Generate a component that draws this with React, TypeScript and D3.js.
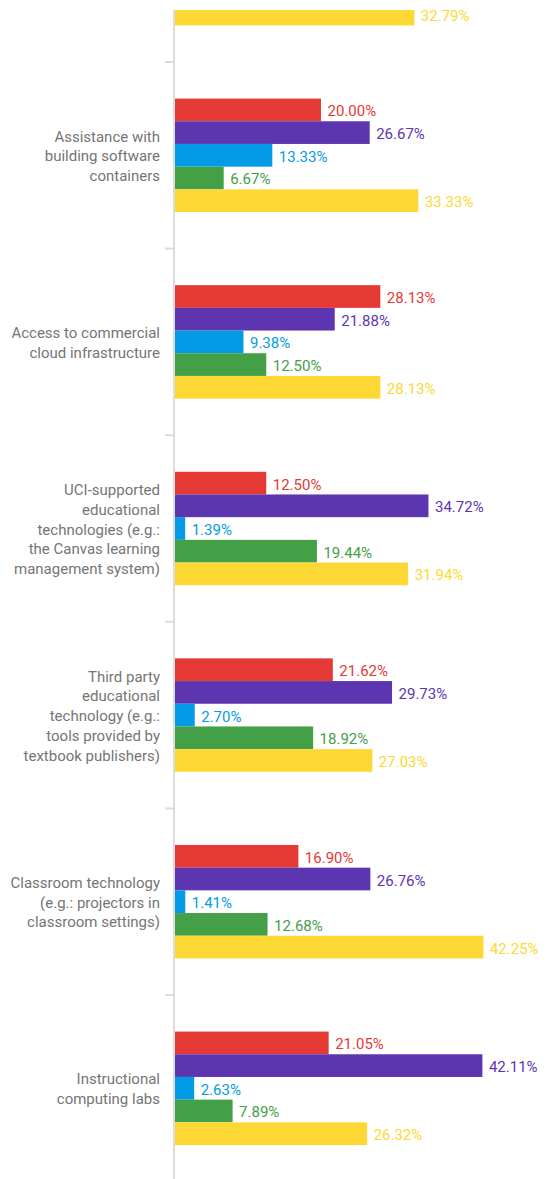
import React from "react";
import * as d3 from "d3";

const categoryLines: string[][] = [
  [],
  ["Assistance with", "building software", "containers"],
  ["Access to commercial", "cloud infrastructure"],
  ["UCI-supported", "educational", "technologies (e.g.:", "the Canvas learning", "management system)"],
  ["Third party", "educational", "technology (e.g.:", "tools provided by", "textbook publishers)"],
  ["Classroom technology", "(e.g.: projectors in", "classroom settings)"],
  ["Instructional", "computing labs"],
];

const seriesNames = ["s1", "s2", "s3", "s4", "s5"];
const seriesColors = ["#E53935", "#5E35B1", "#039BE5", "#43A047", "#FDD835"];

// values per category: [red, purple, blue, green, yellow]; null = not visible in reference
const s1: (number | null)[] = [null, 20.0, 28.13, 12.5, 21.62, 16.9, 21.05];
const s2: (number | null)[] = [null, 26.67, 21.88, 34.72, 29.73, 26.76, 42.11];
const s3: (number | null)[] = [null, 13.33, 9.38, 1.39, 2.7, 1.41, 2.63];
const s4: (number | null)[] = [null, 6.67, 12.5, 19.44, 18.92, 12.68, 7.89];
const s5: (number | null)[] = [32.79, 33.33, 28.13, 31.94, 27.03, 42.25, 26.32];

const seriesValues = [s1, s2, s3, s4, s5];

const W = 547;
const H = 1179;

export default function App() {
  const cats = categoryLines.map((_, i) => String(i));
  const y = d3
    .scaleBand<string>()
    .domain(cats)
    .range([-124.6, 1181.6])
    .paddingInner(0.392)
    .paddingOuter(0.196);
  const sub = d3.scaleBand<string>().domain(seriesNames).range([0, y.bandwidth()]).padding(0);
  const x = d3.scaleLinear().domain([0, 50]).range([175, 540]);
  const gapHalf = (y.step() - y.bandwidth()) / 2;
  const lineH = 19.7;

  return (
    <svg
      width={W}
      height={H}
      style={{ position: "absolute", left: 0, top: 0, display: "block" }}
      fontFamily="Roboto, 'Noto Sans', sans-serif"
    >
      <defs>
        <clipPath id="clipTop">
          <rect x={0} y={10} width={W} height={H - 10} />
        </clipPath>
      </defs>
      <g clipPath="url(#clipTop)">
        <line x1={174} x2={174} y1={10} y2={H} stroke="#dcdcdc" strokeWidth={2} />
        {cats.slice(1).map((c) => {
          const ty = (y(c) as number) - gapHalf;
          return (
            <line key={"t" + c} x1={165} x2={174} y1={ty} y2={ty} stroke="#dcdcdc" strokeWidth={2} />
          );
        })}
        {cats.map((c, ci) => {
          const y0 = y(c) as number;
          return (
            <g key={"b" + c}>
              {seriesNames.map((s, si) => {
                const v = seriesValues[si][ci];
                if (v == null) return null;
                const by = y0 + (sub(s) as number);
                return (
                  <rect
                    key={s}
                    x={x(0)}
                    y={by}
                    width={x(v) - x(0)}
                    height={sub.bandwidth()}
                    fill={seriesColors[si]}
                  />
                );
              })}
            </g>
          );
        })}
      </g>
      {cats.map((c, ci) => {
        const y0 = y(c) as number;
        const cy = y0 + y.bandwidth() / 2 + 1;
        const lines = categoryLines[ci];
        return (
          <g key={"l" + c}>
            {lines.map((ln, li) => (
              <text
                key={li}
                x={160}
                y={cy + (li - (lines.length - 1) / 2) * lineH}
                textAnchor="end"
                dominantBaseline="central"
                fontSize={15}
                fill="#757575"
              >
                {ln}
              </text>
            ))}
            {seriesNames.map((s, si) => {
              const v = seriesValues[si][ci];
              if (v == null) return null;
              const by = y0 + (sub(s) as number);
              return (
                <text
                  key={s}
                  x={x(v) + 6.5}
                  y={by + sub.bandwidth() / 2 + 1.5}
                  dominantBaseline="central"
                  fontSize={15}
                  fill={seriesColors[si]}
                >
                  {v.toFixed(2) + "%"}
                </text>
              );
            })}
          </g>
        );
      })}
    </svg>
  );
}
